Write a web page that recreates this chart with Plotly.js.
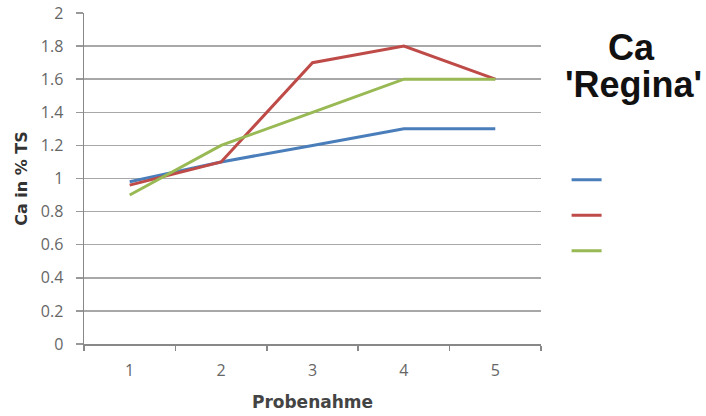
<!DOCTYPE html>
<html>
<head>
<meta charset="utf-8">
<script src="https://cdn.plot.ly/plotly-3.0.1.min.js"></script>
<style>html,body{margin:0;padding:0;background:#fff;}#chart{width:706px;height:416px;}</style>
</head>
<body>
<div id="chart"></div>
<script>
const categories = ['1', '2', '3', '4', '5'];
const seriesBlue = [0.98, 1.1, 1.2, 1.3, 1.3];
const seriesRed = [0.96, 1.1, 1.7, 1.8, 1.6];
const seriesGreen = [0.9, 1.2, 1.4, 1.6, 1.6];
const yTicks = [0, 0.2, 0.4, 0.6, 0.8, 1, 1.2, 1.4, 1.6, 1.8, 2];
const titleLines = ['Ca', "'Regina'"];

const traces = [
  {x: categories, y: seriesBlue, name: ' ', type: 'scatter', mode: 'lines', line: {color: '#4a7ebb', width: 3}},
  {x: categories, y: seriesRed, name: ' ', type: 'scatter', mode: 'lines', line: {color: '#be4b48', width: 3}},
  {x: categories, y: seriesGreen, name: ' ', type: 'scatter', mode: 'lines', line: {color: '#98b954', width: 3}}
];

const titleFont = {family: '"Liberation Sans", Arial, sans-serif', size: 36, color: '#111', weight: 'bold'};

const layout = {
  width: 706, height: 416,
  margin: {l: 84, r: 165, t: 13, b: 72},
  paper_bgcolor: '#fff', plot_bgcolor: '#fff',
  font: {family: '"Open Sans", sans-serif', color: '#666'},
  xaxis: {
    type: 'category', range: [-0.5, 4.5], tickson: 'boundaries', ticks: 'outside', ticklen: 5, tickcolor: '#888', tickwidth: 1.5,
    showgrid: false, showline: true, linecolor: '#888', linewidth: 1.5,
    tickfont: {size: 16, color: '#666'}, ticklabelstandoff: 11,
    title: {text: 'Probenahme', font: {size: 17, color: '#444', family: '"DejaVu Sans", sans-serif', weight: 'bold'}, standoff: 16},
    fixedrange: true
  },
  yaxis: {
    range: [0, 2], tickvals: yTicks, ticks: 'outside', ticklen: 7, tickcolor: '#999', tickwidth: 1.5,
    showgrid: true, gridcolor: '#a8a8a8', gridwidth: 1.5, zeroline: false,
    showline: true, linecolor: '#888', linewidth: 1.5,
    tickfont: {size: 16, color: '#666'}, ticklabelstandoff: 9,
    title: {text: 'Ca in % TS', font: {size: 16, color: '#333', family: '"DejaVu Sans", sans-serif', weight: 'bold'}, standoff: 9},
    fixedrange: true
  },
  showlegend: true,
  legend: {x: 1.056, y: 0.565, xanchor: 'left', yanchor: 'top', font: {size: 25}, bgcolor: 'rgba(0,0,0,0)'},
  annotations: [
    {xref: 'paper', yref: 'paper', x: 1.198, y: 0.897, xanchor: 'center', yanchor: 'middle',
     text: titleLines[0], showarrow: false, font: titleFont},
    {xref: 'paper', yref: 'paper', x: 1.203, y: 0.785, xanchor: 'center', yanchor: 'middle',
     text: titleLines[1], showarrow: false, font: titleFont}
  ]
};

Plotly.newPlot('chart', traces, layout, {displayModeBar: false, staticPlot: true});
</script>
</body>
</html>
